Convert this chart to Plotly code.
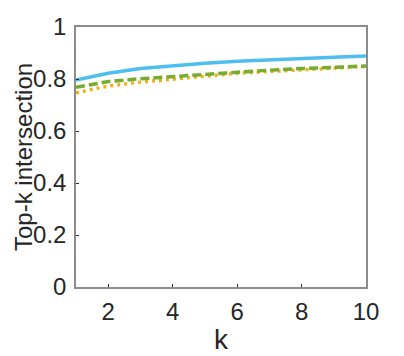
import plotly.graph_objects as go

k = [1, 2, 3, 4, 5, 6, 7, 8, 9, 10]
blue = [0.796, 0.822, 0.840, 0.852, 0.861, 0.868, 0.874, 0.879, 0.884, 0.888]
green = [0.768, 0.790, 0.801, 0.810, 0.819, 0.827, 0.834, 0.840, 0.845, 0.850]
orange = [0.747, 0.773, 0.788, 0.800, 0.812, 0.822, 0.829, 0.835, 0.842, 0.848]

xticks = [2, 4, 6, 8, 10]
yticks = [0, 0.2, 0.4, 0.6, 0.8, 1]
ytext = ["0", "0.2", "0.4", "0.6", "0.8", "1"]
xlabel = "k"
ylabel = "Top-k intersection"

fig = go.Figure()
fig.add_trace(go.Scatter(x=k, y=blue, mode="lines", line=dict(color="#4DBEEE", width=3.5)))
fig.add_trace(go.Scatter(x=k, y=orange, mode="lines", line=dict(color="#EDB120", width=3.5, dash="3px,4px")))
fig.add_trace(go.Scatter(x=k, y=green, mode="lines", line=dict(color="#77AC30", width=3.5, dash="9px,4px")))

axcommon = dict(showgrid=False, zeroline=False, showline=True, linecolor="#8c8c8c", linewidth=1.5,
                mirror=True, ticks="inside", ticklen=3, tickcolor="#262626", automargin=False,
                tickfont=dict(family="Liberation Sans, Arial", size=24, color="#262626"))

fig.update_layout(
    width=396, height=348,
    margin=dict(l=68, r=38, t=19, b=69),
    paper_bgcolor="white", plot_bgcolor="white",
    showlegend=False,
    font=dict(family="Liberation Sans, Arial", color="#262626"),
    xaxis=dict(range=[1, 10], tickvals=xticks, ticklabelstandoff=2, **axcommon),
    yaxis=dict(range=[0, 1], tickvals=yticks, ticktext=ytext, ticklabelstandoff=3, **axcommon),
    annotations=[
        dict(text=ylabel, xref="paper", yref="paper", x=0, y=0.5, xanchor="center", yanchor="middle",
             xshift=-53, textangle=-90, showarrow=False, font=dict(size=24, color="#262626")),
        dict(text=xlabel, xref="paper", yref="paper", x=0.5, y=0, xanchor="center", yanchor="middle",
             yshift=-52, showarrow=False, font=dict(size=28, color="#262626")),
    ],
)
fig.write_html("out.html")
